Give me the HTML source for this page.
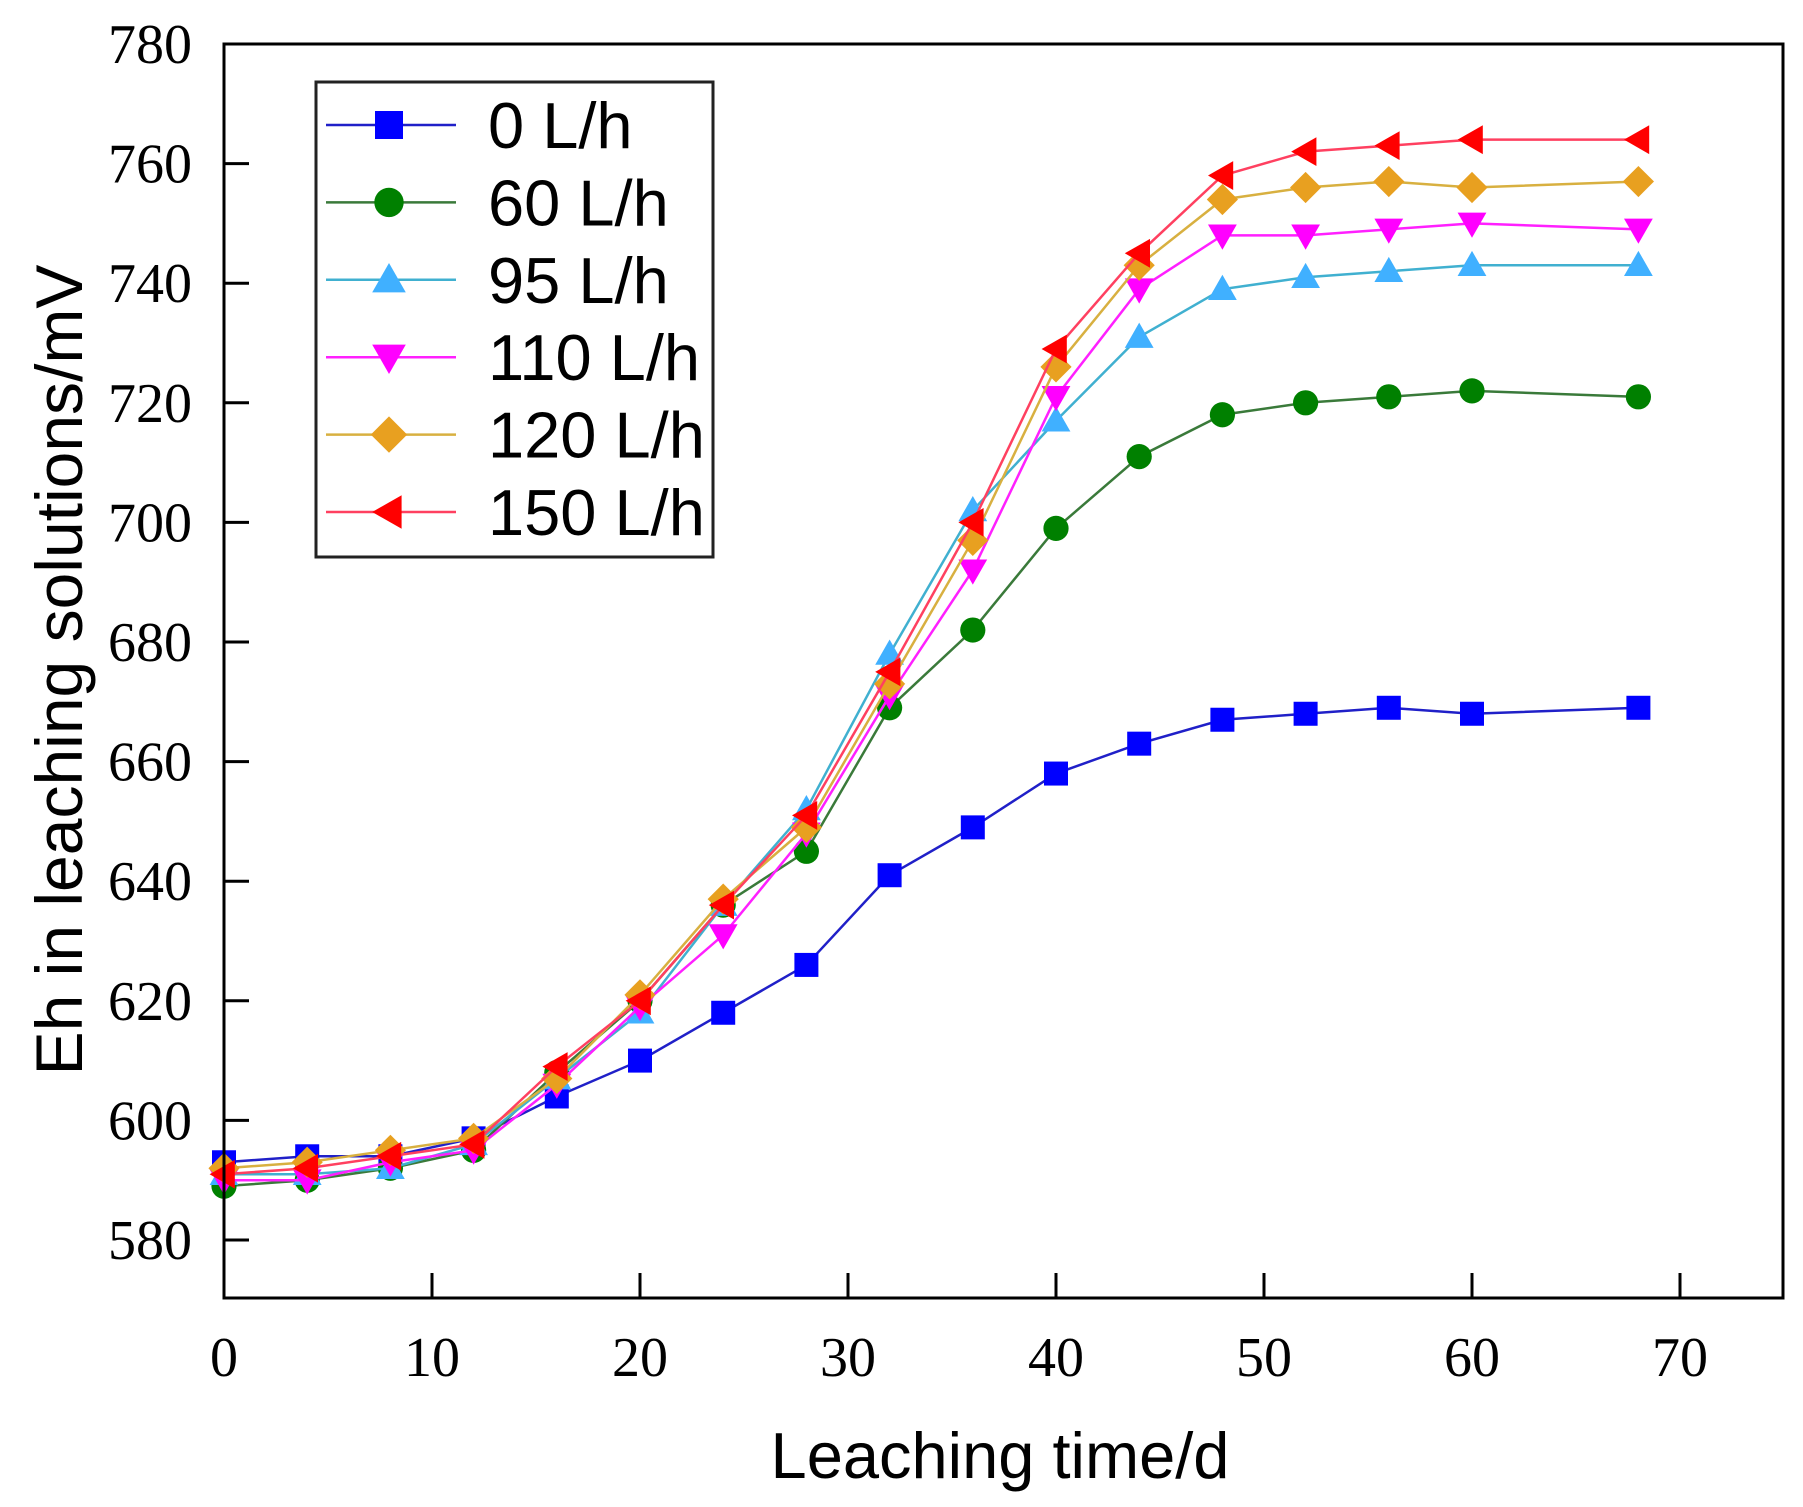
<!DOCTYPE html>
<html><head><meta charset="utf-8"><style>
body{margin:0;background:#fff;}
svg{display:block;}
</style></head><body>
<svg id="chart" width="1803" height="1507" xmlns="http://www.w3.org/2000/svg">
<rect x="0" y="0" width="1803" height="1507" fill="#fff"/>
<g id="marks"></g>
<rect x="224" y="44" width="1559" height="1254" fill="none" stroke="#000" stroke-width="3"/>
<g id="axes"></g>
<text transform="translate(82,670) rotate(-90)" text-anchor="middle" font-family="Liberation Sans, sans-serif" font-size="66">Eh in leaching solutions/mV</text>
<text x="1000" y="1478" text-anchor="middle" font-family="Liberation Sans, sans-serif" font-size="65">Leaching time/d</text>
<g id="legend"></g>
</svg>
<script>
const days = [0,4,8,12,16,20,24,28,32,36,40,44,48,52,56,60,68];
const s0   = [593,594,594,597,604,610,618,626,641,649,658,663,667,668,669,668,669];
const s60  = [589,590,592,595,608,620,636,645,669,682,699,711,718,720,721,722,721];
const s95  = [591,591,592,596,607,618,636,652,678,702,717,731,739,741,742,743,743];
const s110 = [590,590,593,595,606,619,631,648,671,692,721,739,748,748,749,750,749];
const s120 = [592,593,595,597,607,621,637,649,673,697,726,743,754,756,757,756,757];
const s150 = [591,592,594,596,609,620,636,651,675,700,729,745,758,762,763,764,764];
const seriesNames = ["0 L/h","60 L/h","95 L/h","110 L/h","120 L/h","150 L/h"];
const xTicks = [0,10,20,30,40,50,60,70];
const yTicks = [580,600,620,640,660,680,700,720,740,760,780];

const NS="http://www.w3.org/2000/svg";
const X = v => 224 + (v-0)*(1680-224)/70;
const Y = v => 1240 - (v-580)*(1240-44)/200;
function mk(tag, attrs, parent){const e=document.createElementNS(NS,tag);for(const k in attrs)e.setAttribute(k,attrs[k]);parent.appendChild(e);return e;}

const series=[
 {v:s0,line:"#2020c8",fill:"#0000ff",m:"square"},
 {v:s60,line:"#3a7a3a",fill:"#008000",m:"circle"},
 {v:s95,line:"#40b0d0",fill:"#40b0ff",m:"up"},
 {v:s110,line:"#ff20ff",fill:"#ff00ff",m:"down"},
 {v:s120,line:"#d8b040",fill:"#e8a020",m:"diamond"},
 {v:s150,line:"#ff4060",fill:"#ff0000",m:"left"}];

function marker(g,type,cx,cy,fill,r){
  let e;
  if(type==="square") e=mk("rect",{x:cx-r,y:cy-r,width:2*r,height:2*r,fill:fill},g);
  else if(type==="circle") e=mk("circle",{cx:cx,cy:cy,r:r*1.05,fill:fill},g);
  else {
    let p;
    if(type==="up") p=[[cx,cy-r*1.2],[cx+r*1.2,cy+r*0.9],[cx-r*1.2,cy+r*0.9]];
    if(type==="down") p=[[cx,cy+r*1.2],[cx+r*1.2,cy-r*0.9],[cx-r*1.2,cy-r*0.9]];
    if(type==="diamond") p=[[cx,cy-r*1.3],[cx+r*1.3,cy],[cx,cy+r*1.3],[cx-r*1.3,cy]];
    if(type==="left") p=[[cx-r*1.2,cy],[cx+r*0.9,cy-r*1.2],[cx+r*0.9,cy+r*1.2]];
    e=mk("polygon",{points:p.map(q=>q.join(",")).join(" "),fill:fill},g);
  }
  return e;
}

const marks=document.getElementById("marks");
series.forEach((s,i)=>{
  const g=mk("g",{},marks);
  
  
  const pl=mk("polyline",{points:days.map((d,j)=>X(d)+","+Y(s.v[j])).join(" "),fill:"none",stroke:s.line,"stroke-width":2.5},g);
  
  
  days.forEach((d,j)=>{
    const m=marker(g,s.m,X(d),Y(s.v[j]),s.fill,12);
    
    
  });
});

const axes=document.getElementById("axes");
xTicks.forEach(t=>{
  const l=mk("line",{x1:X(t),x2:X(t),y1:1298,y2:1273,stroke:"#000","stroke-width":3},axes);
  
  
  const tx=mk("text",{x:X(t),y:1376,"text-anchor":"middle","font-family":"Liberation Serif, serif","font-size":56},axes);
  tx.textContent=t;
  
  
});
yTicks.forEach(t=>{
  const l=mk("line",{x1:224,x2:249,y1:Y(t),y2:Y(t),stroke:"#000","stroke-width":3},axes);
  
  
  const tx=mk("text",{x:192,y:Y(t)+19,"text-anchor":"end","font-family":"Liberation Serif, serif","font-size":56},axes);
  tx.textContent=t;
  
  
});

const leg=document.getElementById("legend");
const box=mk("rect",{x:316,y:82,width:397,height:475,fill:"#fff",stroke:"#222","stroke-width":3},leg);


series.forEach((s,i)=>{
  const cy=125+i*77.4;
  const g=mk("g",{},leg);
  
  
  mk("line",{x1:326,x2:456,y1:cy,y2:cy,stroke:s.line,"stroke-width":2.5},g);
  marker(g,s.m,389,cy,s.fill,14);
  const tx=mk("text",{x:488,y:cy+23,"font-family":"Liberation Sans, sans-serif","font-size":65},g);
  tx.textContent=seriesNames[i];
});
</script>
</body></html>
